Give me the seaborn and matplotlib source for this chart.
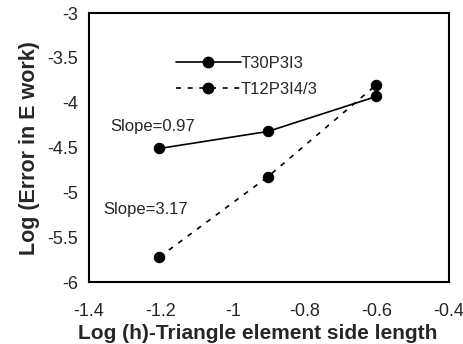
import matplotlib
matplotlib.use("Agg")
import matplotlib.pyplot as plt
import seaborn as sns
import pandas as pd
from matplotlib.lines import Line2D

log_h = [-1.204, -0.903, -0.602]
t30 = [-4.51, -4.32, -3.93]
t12 = [-5.72, -4.825, -3.80]
series_names = ["T30P3I3", "T12P3I4/3"]
xticks = [-1.4, -1.2, -1.0, -0.8, -0.6, -0.4]
yticks = [-6, -5.5, -5, -4.5, -4, -3.5, -3]

df = pd.DataFrame({
    "x": log_h * 2,
    "y": t30 + t12,
    "series": [series_names[0]] * 3 + [series_names[1]] * 3,
})

sns.set_style("white")
plt.rcParams["font.family"] = ["Liberation Sans", "DejaVu Sans"]

fig = plt.figure(figsize=(4.63, 3.44), dpi=100)
ax = fig.add_axes([0.192, 0.180, 0.778, 0.782])

sns.lineplot(data=df, x="x", y="y", hue="series", style="series",
             palette=["black", "black"], dashes=[(None, None), (3, 4)],
             markers=["o", "o"], markersize=7.5, markeredgecolor="black",
             linewidth=1.2, ax=ax, legend=False)

handles = [Line2D([], [], color="black", lw=1.2, marker="o", markersize=7.5),
           Line2D([], [], color="black", lw=1.2, ls=(0, (3, 4)), marker="o", markersize=7.5)]
ax.legend(handles, series_names, loc="center left", bbox_to_anchor=(0.2, 0.765),
          frameon=False, handlelength=3.9, handletextpad=0.0, fontsize=12,
          labelspacing=0.65)

ax.text(-1.342, -4.27, "Slope=0.97", fontsize=12, va="center")
ax.text(-1.361, -5.196, "Slope=3.17", fontsize=12, va="center")

ax.set_xlim(-1.4, -0.4)
ax.set_ylim(-6, -3)
ax.set_xticks(xticks)
ax.set_xticklabels(["-1.4", "-1.2", "-1", "-0.8", "-0.6", "-0.4"])
ax.set_yticks(yticks)
ax.set_yticklabels(["-6", "-5.5", "-5", "-4.5", "-4", "-3.5", "-3"])
ax.tick_params(direction="in", length=4, color="#cccccc", labelsize=13)
ax.tick_params(axis="x", pad=15)
ax.tick_params(axis="y", pad=8)
for s in ax.spines.values():
    s.set_color("black")
    s.set_linewidth(1.5)
ax.set_xlabel("Log (h)-Triangle element side length", fontsize=15, fontweight="bold")
ax.xaxis.set_label_coords(0.469, -0.155)
ax.set_ylabel("Log (Error in E work)", fontsize=15.5, fontweight="bold", labelpad=5)

fig.savefig("out.png", dpi=100)
